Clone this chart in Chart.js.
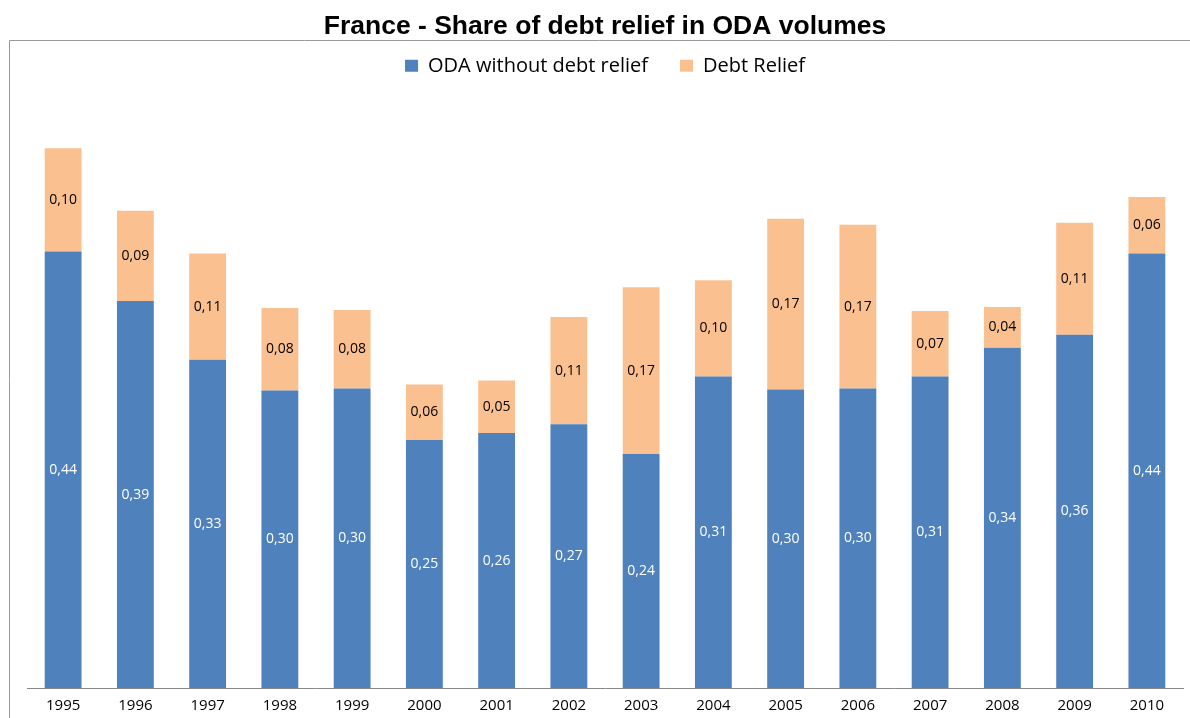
<!DOCTYPE html>
<html>
<head>
<meta charset="utf-8">
<script src="https://cdn.jsdelivr.net/npm/chart.js@4/dist/chart.umd.min.js"></script>
<style>
  html, body { margin: 0; padding: 0; background: #fff; }
  #wrap { width: 1190px; height: 718px; position: relative; }
</style>
</head>
<body>
<div id="wrap"><canvas id="grafico"></canvas></div>
<script>
// dados
const anos = ['1995','1996','1997','1998','1999','2000','2001','2002','2003','2004','2005','2006','2007','2008','2009','2010'];
const semAlivio = [0.440, 0.390, 0.331, 0.300, 0.302, 0.250, 0.257, 0.266, 0.236, 0.314, 0.301, 0.302, 0.314, 0.343, 0.356, 0.438];
const alivioDivida = [0.104, 0.091, 0.107, 0.083, 0.079, 0.056, 0.053, 0.108, 0.168, 0.097, 0.172, 0.165, 0.066, 0.041, 0.113, 0.057];
const nomesSeries = ['ODA without debt relief', 'Debt Relief'];
const titulo = 'France - Share of debt relief in ODA volumes';

const fonteTexto = "'Open Sans', Lato, sans-serif";

// moldura cinza
const pluginMoldura = {
    id: 'moldura',
    beforeInit(chart) {
        // espaço extra abaixo da legenda
        const fitOriginal = chart.legend.fit;
        chart.legend.fit = function() {
            fitOriginal.bind(chart.legend)();
            this.height += 7;
        };
    },
    beforeDraw(chart) {
        const c = chart.ctx;
        c.save();
        c.strokeStyle = '#9a9a9a';
        c.lineWidth = 1;
        c.beginPath();
        c.moveTo(9.5, 718);
        c.lineTo(9.5, 40.5);
        c.lineTo(1190, 40.5);
        c.stroke();
        c.restore();
    }
};

// rótulos dentro das barras
const pluginRotulos = {
    id: 'rotulos',
    afterDatasetsDraw(chart) {
        const c = chart.ctx;
        c.save();
        c.font = '14px ' + fonteTexto;
        c.textAlign = 'center';
        c.textBaseline = 'middle';
        chart.data.datasets.forEach((ds, i) => {
            const meta = chart.getDatasetMeta(i);
            meta.data.forEach((barra, j) => {
                const texto = ds.data[j].toFixed(2).replace('.', ',');
                const meio = (barra.y + barra.base) / 2;
                c.fillStyle = i == 0 ? '#ffffff' : '#000000';
                c.fillText(texto, barra.x, meio);
            });
        });
        c.restore();
    }
};

const ctx = document.getElementById('grafico').getContext('2d');
const grafico = new Chart(ctx, {
    type: 'bar',
    data: {
        labels: anos,
        datasets: [{
            label: nomesSeries[0],
            data: semAlivio,
            backgroundColor: '#4f81bd',
            borderWidth: 0
        }, {
            label: nomesSeries[1],
            data: alivioDivida,
            backgroundColor: '#fac090',
            borderWidth: 0
        }]
    },
    options: {
        responsive: true,
        maintainAspectRatio: false,
        animation: false,
        datasets: {
            bar: { categoryPercentage: 1.0, barPercentage: 0.51 }
        },
        layout: {
            padding: { left: 27, right: 7, top: 0, bottom: -6 }
        },
        scales: {
            x: {
                stacked: true,
                grid: { display: false, drawTicks: false },
                border: { display: true, color: '#888888', width: 1 },
                ticks: {
                    color: '#000',
                    font: { family: fonteTexto, size: 15 },
                    padding: 9,
                    maxRotation: 0
                }
            },
            y: {
                stacked: true,
                display: false,
                min: 0,
                max: 0.6
            }
        },
        plugins: {
            title: {
                display: true,
                text: titulo,
                color: '#000',
                font: { family: "'Liberation Sans', Arial, sans-serif", size: 26.5, weight: 'bold' },
                padding: { top: 11, bottom: -19 }
            },
            legend: {
                display: true,
                position: 'top',
                labels: {
                    color: '#000',
                    boxWidth: 13,
                    boxHeight: 12,
                    padding: 32,
                    font: { family: fonteTexto, size: 20 }
                }
            },
            tooltip: { enabled: false }
        }
    },
    plugins: [pluginMoldura, pluginRotulos]
});
</script>
</body>
</html>
